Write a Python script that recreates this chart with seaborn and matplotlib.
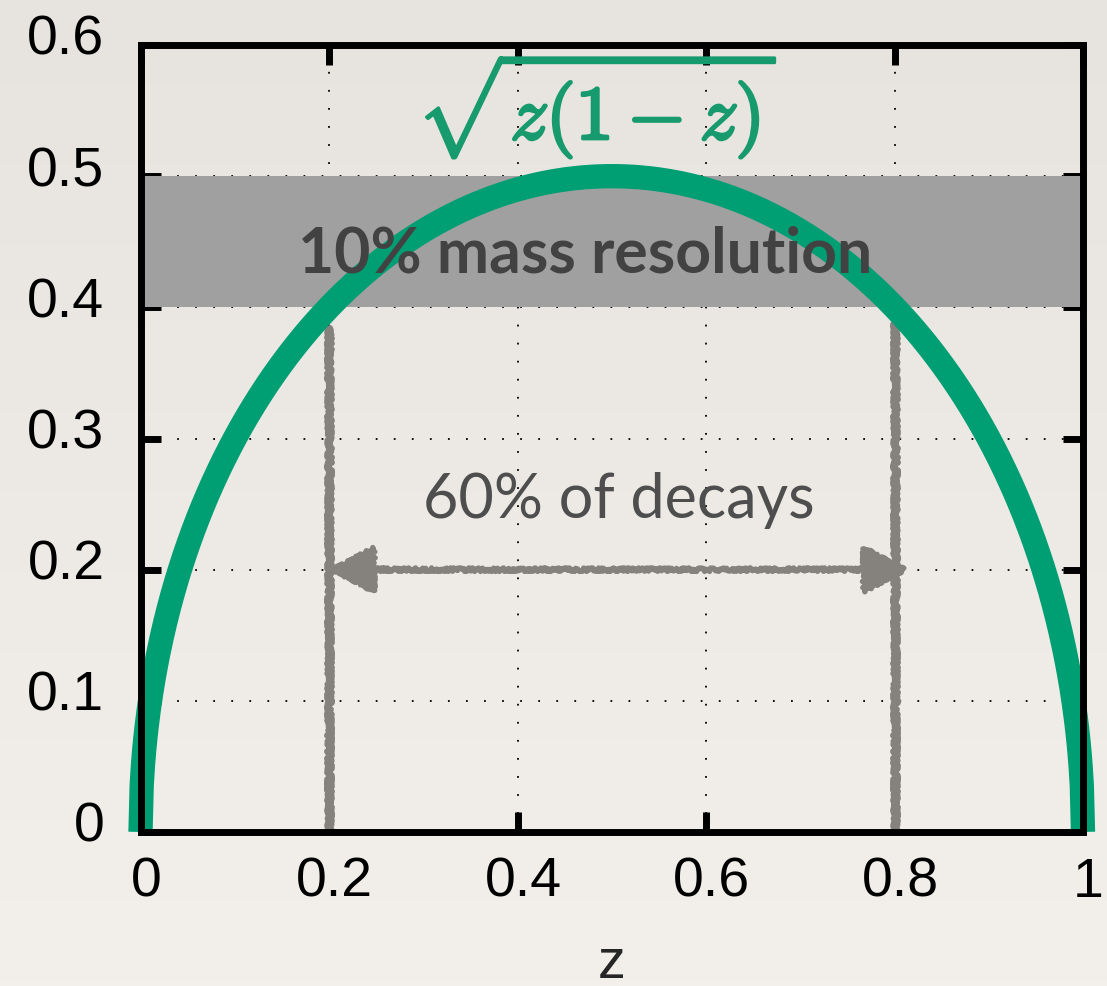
import numpy as np
import pandas as pd
import matplotlib
matplotlib.use("Agg")
import matplotlib.pyplot as plt
import matplotlib.transforms as mtransforms
import matplotlib.patheffects as pe
from matplotlib.patches import FancyArrowPatch
import seaborn as sns

# Momentum fraction z and the decay distribution sqrt(z(1-z))
z_values = np.linspace(0.0, 1.0, 801)
curve_values = np.sqrt(z_values * (1.0 - z_values))

# Mass-resolution band and the central 60% decay window
band_low, band_high = 0.4, 0.5
window_edges = [0.2, 0.8]
window_tops = [0.386, 0.39]
arrow_level = 0.2
arrow_end = 0.815

x_ticks = [0, 0.2, 0.4, 0.6, 0.8, 1]
x_tick_labels = ["0", "0.2", "0.4", "0.6", "0.8", "1"]
y_ticks = [0, 0.1, 0.2, 0.3, 0.4, 0.5, 0.6]
y_tick_labels = ["0", "0.1", "0.2", "0.3", "0.4", "0.5", "0.6"]

GREEN = "#009e73"
SKETCH = "#85817d"
PAPER = "#ebe8e3"

sns.set_theme(style="ticks")
plt.rcParams["font.family"] = ["Liberation Sans", "DejaVu Sans"]
plt.rcParams["mathtext.fontset"] = "cm"

fig = plt.figure(figsize=(11.07, 9.87), dpi=100)
fig.patch.set_facecolor(PAPER)

# soft paper shading behind everything
bg = fig.add_axes([0, 0, 1, 1], zorder=-10)
grad = np.linspace(0, 1, 256)[:, None]
bg.imshow(grad, aspect="auto", cmap=matplotlib.colors.LinearSegmentedColormap.from_list(
    "paper", ["#e7e4df", "#f3f0eb"]), extent=[0, 1, 0, 1], origin="upper")
bg.set_axis_off()

ax = fig.add_axes([140.5 / 1107, 154 / 987, 942.5 / 1107, 787 / 987])
ax.set_facecolor("none")
ax.set_axisbelow(True)

ax.grid(True, color="black", linewidth=1.3, linestyle=(0, (1, 9)))
ax.axhspan(band_low, band_high, color="#a0a0a0", zorder=1, lw=0)

df = pd.DataFrame({"z": z_values, "f": curve_values})
sns.lineplot(data=df, x="z", y="f", ax=ax, color=GREEN, linewidth=17.5,
             sort=False, estimator=None, zorder=2)
for ln in ax.lines:
    ln.set_clip_on(False)
    ln.set_solid_capstyle("butt")
    ln.set_solid_joinstyle("round")

# hand-drawn markers of the decay window
for xe, top in zip(window_edges, window_tops):
    vl, = ax.plot([xe, xe], [0, top], color=SKETCH, linewidth=5, zorder=1.8,
                  solid_capstyle="butt")
    vl.set_sketch_params(scale=2.0, length=3, randomness=3)

arrow = FancyArrowPatch((window_edges[0], arrow_level), (arrow_end, arrow_level),
                        arrowstyle="<|-|>,head_length=1.4,head_width=0.75",
                        mutation_scale=20, color=SKETCH, linewidth=3.8, zorder=1.8,
                        shrinkA=0, shrinkB=0)
arrow.set_sketch_params(scale=1.8, length=3, randomness=3)
ax.add_patch(arrow)

ax.text(0.4716, 0.427, "10% mass resolution", ha="center", va="baseline",
        fontsize=45, fontweight="bold", color="#424242", family=["Lato", "DejaVu Sans"],
        zorder=3)
ax.text(0.507, 0.240, "60% of decays", ha="center", va="baseline",
        fontsize=44, color="#4e4e4e", family=["Lato", "DejaVu Sans"], zorder=3)
ax.text(0.484, 0.528, r"$\sqrt{z(1-z)}$", ha="center", va="baseline",
        fontsize=55, color="#179a6d", zorder=3,
        path_effects=[pe.withStroke(linewidth=2.2, foreground="#179a6d")])

ax.set_xlim(0, 1)
ax.set_ylim(0, 0.6)
ax.set_xticks(x_ticks)
ax.set_xticklabels(x_tick_labels)
ax.set_yticks(y_ticks)
ax.set_yticklabels(y_tick_labels)
ax.tick_params(axis="both", which="major", direction="in", length=14.5, width=5,
               color="black", labelsize=40, labelcolor="black",
               top=True, right=True)
ax.tick_params(axis="x", pad=17)
ax.tick_params(axis="y", pad=26)

# tick labels on the y axis sit a little above their ticks
lift = mtransforms.ScaledTranslation(0, 8 / 72, fig.dpi_scale_trans)
for lbl in ax.get_yticklabels():
    lbl.set_transform(lbl.get_transform() + lift)
nudge = mtransforms.ScaledTranslation(4 / 72, 0, fig.dpi_scale_trans)
for lbl in ax.get_xticklabels():
    lbl.set_transform(lbl.get_transform() + nudge)

for sp in ax.spines.values():
    sp.set_visible(True)
    sp.set_linewidth(5)
    sp.set_color("black")
    sp.set_zorder(3)

ax.set_xlabel("z", fontsize=40, labelpad=21)
ax.set_ylabel("")

fig.savefig("out.png", dpi=100, facecolor=fig.get_facecolor())
